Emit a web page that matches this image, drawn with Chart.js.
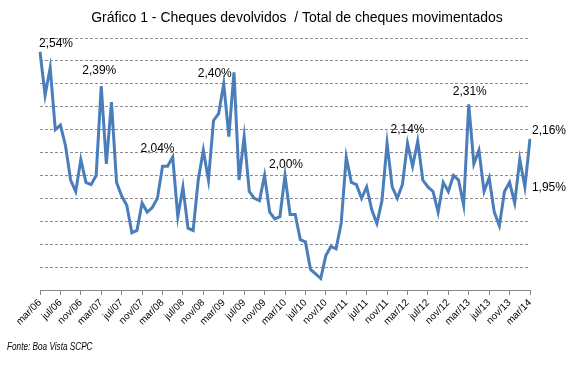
<!DOCTYPE html>
<html>
<head>
<meta charset="utf-8">
<script src="https://cdn.jsdelivr.net/npm/chart.js@4/dist/chart.umd.min.js"></script>
<style>
  html, body { margin: 0; padding: 0; background: #fff; }
  #wrap { width: 578px; height: 367px; }
</style>
</head>
<body>
<div id="wrap"><canvas id="chart" width="578" height="367"></canvas></div>
<script>
// months shown on the x axis: mar/06 .. mar/14
const monthNames = ['jan', 'fev', 'mar', 'abr', 'mai', 'jun', 'jul', 'ago', 'set', 'out', 'nov', 'dez'];
const startYear = 2006;
const startMonth = 2; // mar
const monthCount = 97;

// cheques devolvidos / total movimentados (%)
const devolvidos = [
  2.54, 2.35, 2.47, 2.20, 2.22, 2.13, 1.98, 1.93, 2.07, 1.97, 1.96, 2.00,
  2.39, 2.05, 2.32, 1.97, 1.91, 1.87, 1.75, 1.76, 1.88, 1.84, 1.86, 1.90,
  2.04, 2.04, 2.08, 1.82, 1.95, 1.77, 1.76, 1.98, 2.11, 1.98, 2.24, 2.27,
  2.40, 2.17, 2.45, 1.98, 2.17, 1.93, 1.90, 1.89, 2.00, 1.84, 1.81, 1.82,
  2.00, 1.83, 1.83, 1.72, 1.71, 1.59, 1.57, 1.55, 1.65, 1.69, 1.68, 1.79,
  2.08, 1.97, 1.96, 1.90, 1.95, 1.85, 1.79, 1.89, 2.14, 1.95, 1.90, 1.96,
  2.14, 2.04, 2.15, 1.98, 1.95, 1.93, 1.84, 1.97, 1.93, 2.00, 1.98, 1.87,
  2.31, 2.05, 2.11, 1.93, 1.99, 1.84, 1.78, 1.93, 1.97, 1.88, 2.07, 1.95,
  2.16
];

// points that carry a value label
const labelledPoints = [0, 12, 24, 36, 48, 72, 84, 95, 96];

const titleText = 'Gráfico 1 - Cheques devolvidos  / Total de cheques movimentados';
const sourceText = 'Fonte: Boa Vista SCPC';

const months = [];
for (let i = 0; i < monthCount; i++) {
  const m = (startMonth + i) % 12;
  const y = startYear + Math.floor((startMonth + i) / 12);
  months.push(monthNames[m] + '/' + String(y % 100).padStart(2, '0'));
}

const fmt = v => v.toFixed(2).replace('.', ',') + '%';

// label offsets from their point (dx, dy), kept apart from the data
const labelOffsets = {
  0: [16, -8], 12: [-2, -15], 24: [-5, -18], 36: [-9, -10], 48: [1, -11],
  72: [0, -14], 84: [1, -13], 95: [24, 1], 96: [19, -8]
};

const textPlugin = {
  id: 'texts',
  afterDraw(chart) {
    const ctx = chart.ctx;
    const meta = chart.getDatasetMeta(0);
    ctx.save();
    ctx.fillStyle = '#000';
    ctx.textBaseline = 'middle';

    ctx.font = '14px "Liberation Sans", Arial, sans-serif';
    ctx.textAlign = 'center';
    ctx.fillText(titleText, 297, 18);

    ctx.font = '12px "Liberation Sans", Arial, sans-serif';
    labelledPoints.forEach(i => {
      const pt = meta.data[i];
      const off = labelOffsets[i] || [0, -12];
      ctx.fillText(fmt(devolvidos[i]), pt.x + off[0], pt.y + off[1]);
    });

    // source line is a narrow italic in the original
    ctx.font = 'italic 10px "Liberation Sans", Arial, sans-serif';
    ctx.textAlign = 'left';
    ctx.translate(7, 347);
    ctx.scale(0.82, 1);
    ctx.fillText(sourceText, 0, 0);
    ctx.restore();
  }
};

new Chart(document.getElementById('chart'), {
  type: 'line',
  data: {
    labels: months,
    datasets: [{
      data: devolvidos,
      borderColor: '#4a7ebb',
      borderWidth: 3,
      pointRadius: 0,
      tension: 0,
      fill: false
    }]
  },
  options: {
    responsive: false,
    animation: false,
    layout: { padding: { left: 40, right: 48, top: 38, bottom: 0 } },
    plugins: {
      legend: { display: false },
      tooltip: { enabled: false },
      title: { display: false }
    },
    scales: {
      x: {
        offset: false,
        afterFit: scale => { scale.height = 77; },
        border: { display: true, color: '#868686', width: 1 },
        grid: {
          drawOnChartArea: false,
          drawTicks: true,
          tickLength: 5,
          color: '#868686',
          offset: false
        },
        ticks: {
          autoSkip: false,
          minRotation: 45,
          maxRotation: 45,
          padding: 2,
          color: '#000',
          font: { family: '"Liberation Sans", Arial, sans-serif', size: 10 },
          callback: (val, idx) => idx % 4 === 0 ? months[idx] : null
        }
      },
      y: {
        min: 1.5,
        max: 2.6,
        afterFit: scale => { scale.width = 0; },
        border: { display: false, dash: [3, 2] },
        grid: { color: '#8c8c8c', lineWidth: 1, drawTicks: false },
        ticks: { display: false, stepSize: 0.1 }
      }
    }
  },
  plugins: [textPlugin]
});
</script>
</body>
</html>
